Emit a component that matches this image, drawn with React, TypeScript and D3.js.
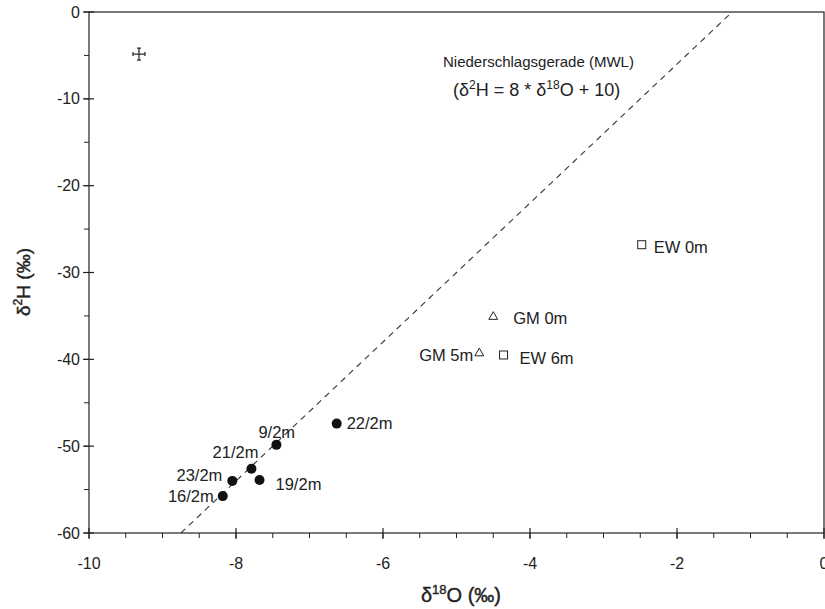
import React, { useRef, useEffect } from 'react';
import * as d3 from 'd3';

// sample points: [d18O, d2H]
const bohrLabels = ['9/2m', '22/2m', '21/2m', '19/2m', '23/2m', '16/2m'];
const bohrO18 = [-7.45, -6.63, -7.79, -7.68, -8.05, -8.18];
const bohrH2 = [-49.85, -47.4, -52.6, -53.9, -54.0, -55.75];

const ewLabels = ['EW 0m', 'EW 6m'];
const ewO18 = [-2.48, -4.36];
const ewH2 = [-26.8, -39.5];

const gmLabels = ['GM 0m', 'GM 5m'];
const gmO18 = [-4.5, -4.69];
const gmH2 = [-35.1, -39.3];

// analytical error cross
const errO18 = -9.32;
const errH2 = -4.85;

const xTicks = [-10, -8, -6, -4, -2, 0];
const yTicks = [0, -10, -20, -30, -40, -50, -60];

// label placement relative to the point (pixels)
const labelPos: Record<string, { dx: number; dy: number; anchor: string }> = {
  '9/2m': { dx: -18, dy: -13, anchor: 'start' },
  '22/2m': { dx: 10, dy: 0, anchor: 'start' },
  '21/2m': { dx: 7, dy: -17, anchor: 'end' },
  '19/2m': { dx: 16, dy: 4, anchor: 'start' },
  '23/2m': { dx: -10, dy: -6, anchor: 'end' },
  '16/2m': { dx: -9, dy: 0, anchor: 'end' },
  'EW 0m': { dx: 12, dy: 3, anchor: 'start' },
  'EW 6m': { dx: 16, dy: 3, anchor: 'start' },
  'GM 0m': { dx: 20, dy: 1, anchor: 'start' },
  'GM 5m': { dx: -6, dy: 2, anchor: 'end' },
};

const App = () => {
  const ref = useRef<SVGSVGElement>(null);
  const width = 825;
  const height = 609;

  useEffect(() => {
    const margin = { top: 12, right: 1, bottom: 76, left: 89 };
    const w = width - margin.left - margin.right;
    const h = height - margin.top - margin.bottom;
    const font = '"Liberation Sans", Arial, sans-serif';
    const ink = '#222';

    d3.select(ref.current).selectAll('*').remove();
    const svg = d3.select(ref.current)
      .attr('width', width)
      .attr('height', height)
      .append('g')
      .attr('transform', `translate(${margin.left},${margin.top})`);

    const x = d3.scaleLinear().domain([-10, 0]).range([0, w]);
    const y = d3.scaleLinear().domain([-60, 0]).range([h, 0]);

    // frame
    svg.append('rect')
      .attr('width', w).attr('height', h)
      .attr('fill', 'none').attr('stroke', ink).attr('stroke-width', 1.2);

    // minor ticks
    svg.append('g')
      .selectAll('line')
      .data(d3.range(-10, 0.01, 0.5))
      .join('line')
      .attr('x1', d => x(d)).attr('x2', d => x(d))
      .attr('y1', h).attr('y2', h + 5)
      .attr('stroke', ink);
    svg.append('g')
      .selectAll('line')
      .data(d3.range(-60, 0.01, 5))
      .join('line')
      .attr('x1', -5).attr('x2', 0)
      .attr('y1', d => y(d)).attr('y2', d => y(d))
      .attr('stroke', ink);

    // major ticks crossing the axes
    svg.append('g')
      .selectAll('line')
      .data(xTicks)
      .join('line')
      .attr('x1', d => x(d)).attr('x2', d => x(d))
      .attr('y1', h - 5).attr('y2', h + 6)
      .attr('stroke', ink).attr('stroke-width', 1.2);
    svg.append('g')
      .selectAll('line')
      .data(yTicks)
      .join('line')
      .attr('x1', -6).attr('x2', 5)
      .attr('y1', d => y(d)).attr('y2', d => y(d))
      .attr('stroke', ink).attr('stroke-width', 1.2);

    // tick labels
    svg.append('g')
      .selectAll('text')
      .data(xTicks)
      .join('text')
      .attr('x', d => x(d)).attr('y', h + 36)
      .attr('text-anchor', 'middle')
      .style('font-family', font).style('font-size', '16px').attr('fill', ink)
      .text(d => d);
    svg.append('g')
      .selectAll('text')
      .data(yTicks)
      .join('text')
      .attr('x', -9).attr('y', d => y(d)).attr('dy', '0.35em')
      .attr('text-anchor', 'end')
      .style('font-family', font).style('font-size', '16px').attr('fill', ink)
      .text(d => d);

    // axis titles
    const xt = svg.append('text')
      .attr('x', 461 - margin.left).attr('y', h + 69)
      .attr('text-anchor', 'middle')
      .style('font-family', font).style('font-size', '20px')
      .attr('fill', ink).attr('stroke', ink).attr('stroke-width', 0.4);
    xt.append('tspan').text('δ');
    xt.append('tspan').attr('dy', -8).style('font-size', '13px').text('18');
    xt.append('tspan').attr('dy', 8).text('O (‰)');

    const yt = svg.append('text')
      .attr('transform', `translate(${30 - margin.left},${282 - margin.top}) rotate(-90)`)
      .attr('text-anchor', 'middle')
      .style('font-family', font).style('font-size', '19px')
      .attr('fill', ink).attr('stroke', ink).attr('stroke-width', 0.4);
    yt.append('tspan').text('δ');
    yt.append('tspan').attr('dy', -8).style('font-size', '12px').text('2');
    yt.append('tspan').attr('dy', 8).text('H (‰)');

    // meteoric water line d2H = 8*d18O + 10
    const mwl = (o: number) => 8 * o + 10;
    const o0 = (-60 - 10) / 8;
    const o1 = (0 - 10) / 8;
    svg.append('line')
      .attr('x1', x(o0)).attr('y1', y(mwl(o0)))
      .attr('x2', x(o1)).attr('y2', y(mwl(o1)))
      .attr('stroke', '#333').attr('stroke-width', 1.1)
      .attr('stroke-dasharray', '6,5');

    svg.append('text')
      .attr('x', 443 - margin.left).attr('y', 67 - margin.top)
      .style('font-family', font).style('font-size', '15px').attr('fill', ink)
      .text('Niederschlagsgerade (MWL)');
    const eq = svg.append('text')
      .attr('x', 453 - margin.left).attr('y', 96 - margin.top)
      .style('font-family', font).style('font-size', '18px').attr('fill', ink);
    eq.append('tspan').text('(δ');
    eq.append('tspan').attr('dy', -7).style('font-size', '12px').text('2');
    eq.append('tspan').attr('dy', 7).text('H = 8 * δ');
    eq.append('tspan').attr('dy', -7).style('font-size', '12px').text('18');
    eq.append('tspan').attr('dy', 7).text('O + 10)');

    // error cross with end caps
    const ex = x(errO18);
    const ey = y(errH2);
    const arm = 6;
    const cap = 2;
    const cross = svg.append('g').attr('stroke', ink).attr('stroke-width', 1.2);
    cross.append('line').attr('x1', ex - arm).attr('x2', ex + arm).attr('y1', ey).attr('y2', ey);
    cross.append('line').attr('x1', ex).attr('x2', ex).attr('y1', ey - arm).attr('y2', ey + arm);
    cross.append('line').attr('x1', ex - arm).attr('x2', ex - arm).attr('y1', ey - cap).attr('y2', ey + cap);
    cross.append('line').attr('x1', ex + arm).attr('x2', ex + arm).attr('y1', ey - cap).attr('y2', ey + cap);
    cross.append('line').attr('x1', ex - cap).attr('x2', ex + cap).attr('y1', ey - arm).attr('y2', ey - arm);
    cross.append('line').attr('x1', ex - cap).attr('x2', ex + cap).attr('y1', ey + arm).attr('y2', ey + arm);

    const labelText = (lab: string, px: number, py: number) => {
      const p = labelPos[lab];
      svg.append('text')
        .attr('x', px + p.dx).attr('y', py + p.dy).attr('dy', '0.35em')
        .attr('text-anchor', p.anchor)
        .style('font-family', font).style('font-size', '16.5px').attr('fill', ink)
        .text(lab);
    };

    // groundwater wells: filled circles
    bohrLabels.forEach((lab, i) => {
      const px = x(bohrO18[i]);
      const py = y(bohrH2[i]);
      svg.append('circle').attr('cx', px).attr('cy', py).attr('r', 5).attr('fill', '#111');
      labelText(lab, px, py);
    });

    // EW: open squares
    ewLabels.forEach((lab, i) => {
      const px = x(ewO18[i]);
      const py = y(ewH2[i]);
      svg.append('rect')
        .attr('x', px - 4).attr('y', py - 4).attr('width', 8).attr('height', 8)
        .attr('fill', 'white').attr('stroke', ink).attr('stroke-width', 1);
      labelText(lab, px, py);
    });

    // GM: open triangles
    const tri = d3.symbol().type(d3.symbolTriangle).size(34);
    gmLabels.forEach((lab, i) => {
      const px = x(gmO18[i]);
      const py = y(gmH2[i]);
      svg.append('path')
        .attr('d', tri())
        .attr('transform', `translate(${px},${py})`)
        .attr('fill', 'white').attr('stroke', ink).attr('stroke-width', 1);
      labelText(lab, px, py);
    });
  }, []);

  return <svg ref={ref} style={{ position: 'absolute', left: 0, top: 0, background: 'white' }}></svg>;
};

export default App;
